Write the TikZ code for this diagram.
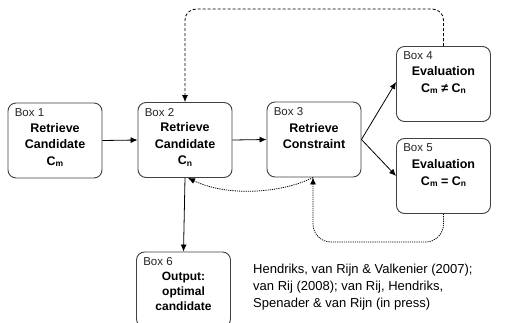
\documentclass[tikz,border=0pt]{standalone}
\usepackage{fontspec}
\setmainfont{Liberation Sans}
\usetikzlibrary{arrows.meta}
\tikzset{
  box/.style={draw=black!75, line width=0.9pt, rounded corners=8pt, rectangle,
    minimum width=94pt, minimum height=75pt, inner sep=0pt},
  boxlabel/.style={anchor=west, inner sep=0pt, font=\fontsize{11.5}{13}\selectfont, text=black!85},
  title/.style={anchor=north, inner sep=0pt, align=center,
    font=\fontsize{12.5}{16.5}\selectfont\bfseries},
  solidarrow/.style={line width=0.8pt, -{Latex[length=7pt,width=6pt]}},
  dasharrow/.style={line width=0.8pt, dash pattern=on 3pt off 2pt, -{Latex[length=7pt,width=6pt]}},
  dotarrow/.style={line width=0.8pt, dash pattern=on 1.2pt off 1pt, -{Latex[length=7pt,width=6pt]}},
  cite/.style={anchor=west, inner sep=0pt, align=left, font=\fontsize{13}{17}\selectfont}
}
\newcommand{\sbs}[1]{\raisebox{-1.5pt}{\fontsize{8.5}{9}\selectfont #1}}
\begin{document}
\begin{tikzpicture}[x=1pt,y=-1pt]
\clip (0,0) rectangle (532,322);
\fill[white] (0,0) rectangle (532,322);
% boxes
\node[box] (b1) at (55,140.5) {};
\node[box] (b2) at (185,140) {};
\node[box] (b3) at (314,139.5) {};
\node[box] (b4) at (443.5,84) {};
\node[box] (b5) at (443.5,176) {};
\node[box] (b6) at (183.5,289.5) {};
% labels
\node[boxlabel] (l1) at ([shift={(7,10)}]b1.north west) {Box 1};
\node[boxlabel] (l2) at ([shift={(7,10)}]b2.north west) {Box 2};
\node[boxlabel] (l3) at ([shift={(7,10)}]b3.north west) {Box 3};
\node[boxlabel] (l4) at ([shift={(7,10)}]b4.north west) {Box 4};
\node[boxlabel] (l5) at ([shift={(7,10)}]b5.north west) {Box 5};
\node[boxlabel] (l6) at ([shift={(7,10)}]b6.north west) {Box 6};
% titles
\node[title] (t1) at ([yshift=-20.5]b1.north) {Retrieve\\Candidate\\C\sbs{m}};
\node[title] (t2) at ([yshift=-20.5]b2.north) {Retrieve\\Candidate\\C\sbs{n}};
\node[title] (t3) at ([yshift=-21.5]b3.north) {Retrieve\\Constraint};
\node[title] (t4) at ([yshift=-20.5]b4.north) {Evaluation\\C\sbs{m} ≠ C\sbs{n}};
\node[title] (t5) at ([yshift=-21.5]b5.north) {Evaluation\\C\sbs{m} = C\sbs{n}};
\node[title, font=\fontsize{12}{15}\selectfont\bfseries] (t6) at ([yshift=-20.5]b6.north) {Output:\\optimal\\candidate};
% solid arrows
\draw[solidarrow] (b1.east) -- (b2.west);
\draw[solidarrow] (b2.east) -- (b3.west);
\draw[solidarrow] (b3.east) -- ([yshift=2]b4.west);
\draw[solidarrow] (b3.east) -- ([yshift=0]b5.west);
\draw[solidarrow] (b2.south) -- (b6.north);
% dashed feedback from box 4
\draw[dasharrow, rounded corners=11pt] (b4.north) -- ++(0,-37) -| (b2.north);
% dotted curve box 3 -> box 2
\draw[dotarrow] ([xshift=-1]b3.south) .. controls (285,192) and (230,198) .. ([xshift=3]b2.south);
% dotted loop box 5 -> box 3
\draw[dotarrow, rounded corners=18pt] (b5.south) |- (313,242) -- ([xshift=-1]b3.south);
% citation
\node[cite] (cite) at (253,287) {Hendriks, van Rijn \& Valkenier (2007);\\van Rij (2008); van Rij, Hendriks,\\Spenader \& van Rijn (in press)};
\end{tikzpicture}
\end{document}
